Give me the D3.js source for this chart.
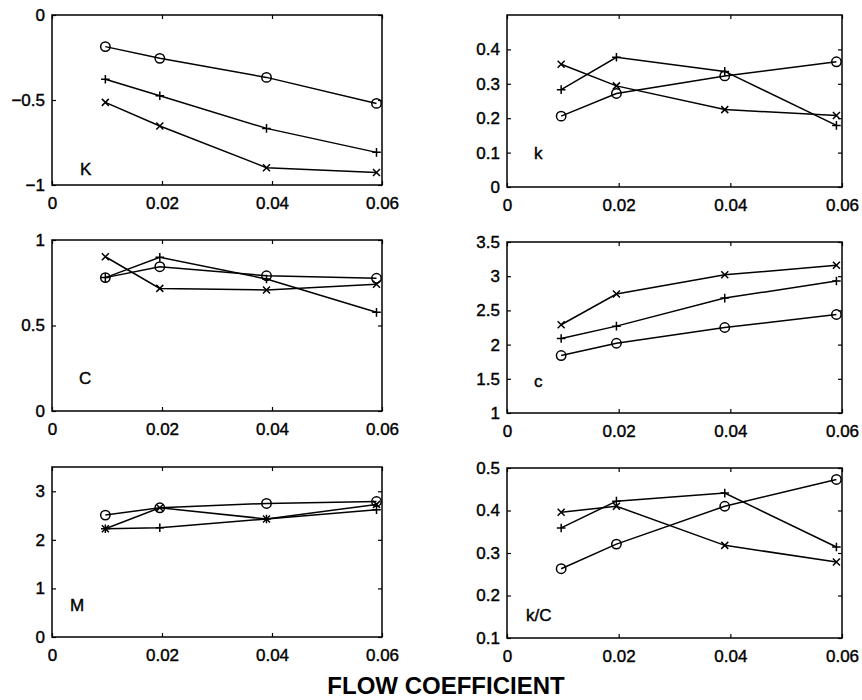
<!DOCTYPE html>
<html lang="en">
<head>
<meta charset="UTF-8">
<title>Flow coefficient panels</title>
<script src="https://cdn.jsdelivr.net/npm/d3@7"></script>
<style>
  body { margin: 0; background: #fff; }
  text { font-family: "Liberation Sans", Arial, sans-serif; fill: #000; }
</style>
</head>
<body>
<div id="chart"></div>
<script>
    // flow coefficient values (x) shared by all panels
    const flow = [0.0097, 0.0196, 0.039, 0.059];
    const xTicks = [0, 0.02, 0.04, 0.06];

    // K
    const KCirc  = [-0.186, -0.255, -0.367, -0.520];
    const KPlus  = [-0.378, -0.475, -0.667, -0.808];
    const KCross = [-0.514, -0.653, -0.898, -0.927];
    // k
    const kCirc  = [0.206, 0.272, 0.323, 0.364];
    const kPlus  = [0.283, 0.377, 0.336, 0.179];
    const kCross = [0.357, 0.294, 0.225, 0.208];
    // C
    const CCirc  = [0.780, 0.844, 0.791, 0.776];
    const CPlus  = [0.780, 0.899, 0.772, 0.577];
    const CCross = [0.902, 0.717, 0.708, 0.741];
    // c
    const cCirc  = [1.84, 2.02, 2.25, 2.44];
    const cPlus  = [2.09, 2.27, 2.68, 2.93];
    const cCross = [2.29, 2.74, 3.02, 3.16];
    // M
    const MCirc  = [2.51, 2.66, 2.75, 2.79];
    const MPlus  = [2.23, 2.25, 2.43, 2.62];
    const MCross = [2.23, 2.66, 2.43, 2.73];
    // k/C
    const kCCirc  = [0.263, 0.321, 0.410, 0.473];
    const kCPlus  = [0.359, 0.422, 0.441, 0.314];
    const kCCross = [0.396, 0.410, 0.318, 0.279];

    const labels  = ["K", "k", "C", "c", "M", "k/C"];
    const yDomains = [[-1, 0], [0, 0.5], [0, 1], [1, 3.5], [0, 3.5], [0.1, 0.5]];
    const yTicks = [
        [-1, -0.5, 0],
        [0, 0.1, 0.2, 0.3, 0.4],
        [0, 0.5, 1],
        [1, 1.5, 2, 2.5, 3, 3.5],
        [0, 1, 2, 3],
        [0.1, 0.2, 0.3, 0.4, 0.5]
    ];
    const series = [
        [KCirc, KPlus, KCross],
        [kCirc, kPlus, kCross],
        [CCirc, CPlus, CCross],
        [cCirc, cPlus, cCross],
        [MCirc, MPlus, MCross],
        [kCCirc, kCPlus, kCCross]
    ];

    // layout: panel boxes and label offsets (px)
    const boxes = [
        {x0: 52, x1: 382, y0: 15, y1: 185, lx: 28, ly: 10},
        {x0: 507, x1: 842, y0: 15, y1: 187, lx: 27, ly: 28},
        {x0: 52, x1: 382, y0: 240, y1: 411, lx: 27, ly: 27},
        {x0: 507, x1: 842, y0: 242, y1: 413, lx: 27, ly: 26},
        {x0: 52, x1: 382, y0: 467, y1: 637, lx: 18, ly: 26},
        {x0: 507, x1: 842, y0: 468, y1: 638, lx: 19, ly: 17}
    ];

    const width = 862, height = 700;
    const fontSize = 17;
    const fmt = d3.format("~g");

    const svg = d3.select("#chart")
        .append("svg")
        .attr("width", width)
        .attr("height", height)
        .attr("viewBox", [0, 0, width, height]);

    boxes.forEach((b, i) => {
        const x = d3.scaleLinear().domain([0, 0.06]).range([b.x0, b.x1]);
        const y = d3.scaleLinear().domain(yDomains[i]).range([b.y1, b.y0]);
        const g = svg.append("g");

        // bottom axis with labels, inward ticks
        g.append("g")
            .attr("transform", `translate(0,${b.y1})`)
            .call(d3.axisBottom(x).tickValues(xTicks).tickFormat(fmt).tickSize(-4).tickPadding(12))
            .call(a => a.select(".domain").remove());
        g.append("g")
            .attr("transform", `translate(0,${b.y0})`)
            .call(d3.axisTop(x).tickValues(xTicks).tickFormat("").tickSize(-4))
            .call(a => a.select(".domain").remove());
        g.append("g")
            .attr("transform", `translate(${b.x0},0)`)
            .call(d3.axisLeft(y).tickValues(yTicks[i]).tickFormat(fmt).tickSize(-4).tickPadding(7))
            .call(a => a.select(".domain").remove());
        g.append("g")
            .attr("transform", `translate(${b.x1},0)`)
            .call(d3.axisRight(y).tickValues(yTicks[i]).tickFormat("").tickSize(-4))
            .call(a => a.select(".domain").remove());

        g.selectAll(".tick line").attr("stroke", "#000").attr("stroke-width", 1.2);
        g.selectAll(".tick text")
            .style("font-family", "'Liberation Sans', Arial, sans-serif")
            .style("font-size", fontSize + "px")
            .attr("fill", "#000")
            .attr("stroke", "#000")
            .attr("stroke-width", 0.4);

        g.append("rect")
            .attr("x", b.x0).attr("y", b.y0)
            .attr("width", b.x1 - b.x0).attr("height", b.y1 - b.y0)
            .attr("fill", "none").attr("stroke", "#000").attr("stroke-width", 1.5);

        g.append("text")
            .attr("x", b.x0 + b.lx)
            .attr("y", b.y1 - b.ly)
            .style("font-size", fontSize + "px")
            .attr("stroke", "#000")
            .attr("stroke-width", 0.4)
            .text(labels[i]);

        const line = d3.line().x((d, j) => x(flow[j])).y(d => y(d));

        series[i].forEach((vals, s) => {
            g.append("path")
                .attr("d", line(vals))
                .attr("fill", "none")
                .attr("stroke", "#000")
                .attr("stroke-width", 1.5);

            if (s === 0) {
                g.selectAll(null).data(vals).join("circle")
                    .attr("cx", (d, j) => x(flow[j]))
                    .attr("cy", d => y(d))
                    .attr("r", 4.7)
                    .attr("fill", "none")
                    .attr("stroke", "#000")
                    .attr("stroke-width", 1.5);
            } else {
                const h = s === 1 ? 4.3 : 3.5;
                g.selectAll(null).data(vals).join("path")
                    .attr("d", (d, j) => {
                        const cx = x(flow[j]), cy = y(d);
                        return s === 1
                            ? `M${cx - h},${cy}H${cx + h}M${cx},${cy - h}V${cy + h}`
                            : `M${cx - h},${cy - h}L${cx + h},${cy + h}M${cx - h},${cy + h}L${cx + h},${cy - h}`;
                    })
                    .attr("fill", "none")
                    .attr("stroke", "#000")
                    .attr("stroke-width", 1.5);
            }
        });
    });

    svg.append("text")
        .attr("x", 446)
        .attr("y", 694)
        .attr("text-anchor", "middle")
        .style("font-size", "24px")
        .style("font-weight", "bold")
        .text("FLOW COEFFICIENT");
</script>
</body>
</html>
